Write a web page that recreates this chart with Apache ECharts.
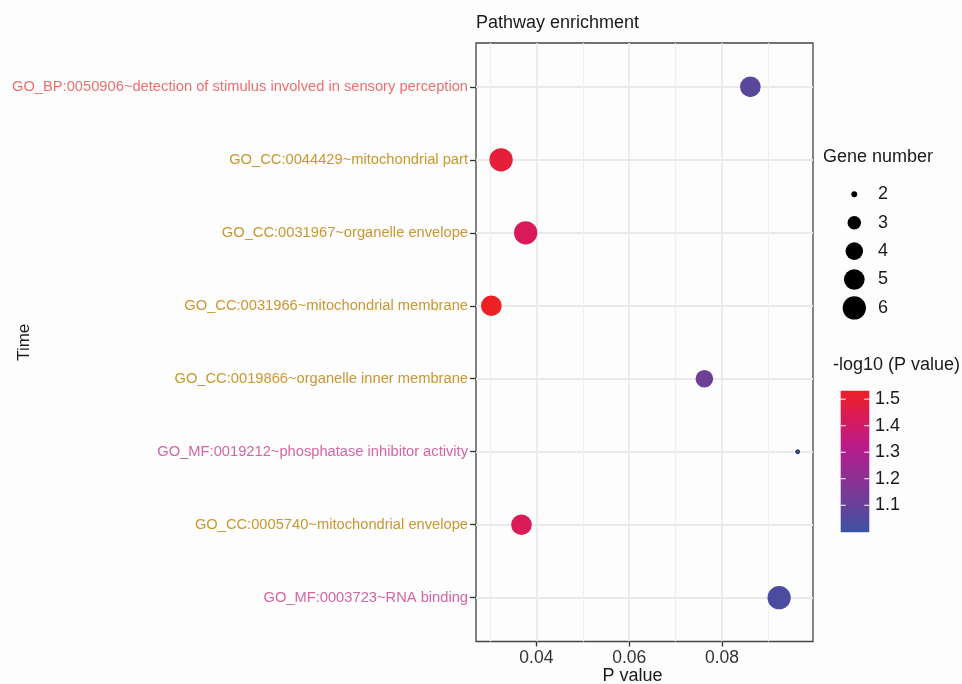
<!DOCTYPE html>
<html>
<head>
<meta charset="utf-8">
<script src="https://cdn.jsdelivr.net/npm/echarts@6/dist/echarts.min.js"></script>
<style>
  html, body { margin: 0; padding: 0; background: #fdfdfd; }
  #chart { width: 962px; height: 684px; }
</style>
</head>
<body>
<div id="chart"></div>
<script>
// GO terms, top to bottom
const categories = [
  'GO_BP:0050906~detection of stimulus involved in sensory perception',
  'GO_CC:0044429~mitochondrial part',
  'GO_CC:0031967~organelle envelope',
  'GO_CC:0031966~mitochondrial membrane',
  'GO_CC:0019866~organelle inner membrane',
  'GO_MF:0019212~phosphatase inhibitor activity',
  'GO_CC:0005740~mitochondrial envelope',
  'GO_MF:0003723~RNA binding'
];
const pValues = [0.0861, 0.0324, 0.0377, 0.0303, 0.0762, 0.0963, 0.0368, 0.0923];
const negLog10P = [1.065, 1.49, 1.425, 1.532, 1.12, 0.998, 1.435, 1.035];
const geneNumber = [5, 6, 6, 5, 4, 2, 5, 6];

const xTicks = [0.04, 0.06, 0.08];
const xMinorTicks = [0.03, 0.05, 0.07, 0.09];
const geneLegend = [2, 3, 4, 5, 6];
const colorbarTicks = [1.1, 1.2, 1.3, 1.4, 1.5];

const termColors = { BP: '#e8716f', CC: '#c9972f', MF: '#d465a5' };
const rampColors = ['#3a53a4', '#6a4099', '#8f2f92', '#b81c8a', '#d81a5c', '#ee2024'];
const FONT = 'Liberation Sans';

// size scale: area-proportional over the gene-number range
const gMin = Math.min(...geneLegend), gMax = Math.max(...geneLegend);
function dotSize(n) {
  return 3.88 * (1 + 5 * Math.sqrt((n - gMin) / (gMax - gMin)));
}

// x range with 5% padding on each side
const pLo = Math.min(...pValues), pHi = Math.max(...pValues);
const pad = (pHi - pLo) * 0.05;
const xMin = pLo - pad, xMax = pHi + pad;

const cMin = Math.min(...negLog10P), cMax = Math.max(...negLog10P);

const points = categories.map((c, i) => {
  const d = { value: [pValues[i], i, geneNumber[i], negLog10P[i]] };
  if (geneNumber[i] === gMin) d.itemStyle = { borderColor: '#1d2452', borderWidth: 1 };
  return d;
});

const chart = echarts.init(document.getElementById('chart'), null, { renderer: 'canvas' });

// plot frame in pixels
const gLeft = 476, gTop = 43, gRight = 149, gBottom = 42.5;

// legend graphics
const graphics = [];
graphics.push({
  type: 'text', left: 823, top: 148,
  style: { text: 'Gene number', font: '18px "' + FONT + '"', fill: '#1a1a1a' }
});
geneLegend.forEach((g, k) => {
  const cy = 194.3 + k * 28.4;
  const r = dotSize(g) / 2 + (g === gMin ? 1 : 0);
  graphics.push({ type: 'circle', shape: { cx: 854.3, cy: cy, r: r }, style: { fill: '#000' } });
  graphics.push({
    type: 'text', x: 878, y: cy,
    style: { text: String(g), font: '18px "' + FONT + '"', fill: '#1a1a1a', verticalAlign: 'middle' }
  });
});

graphics.push({
  type: 'text', left: 833, top: 356,
  style: { text: '-log10 (P value)', font: '18px "' + FONT + '"', fill: '#1a1a1a' }
});
const cbX = 840.7, cbY = 390.7, cbW = 28.6, cbH = 141.6;
graphics.push({
  type: 'rect', shape: { x: cbX, y: cbY, width: cbW, height: cbH },
  style: {
    fill: new echarts.graphic.LinearGradient(0, 1, 0, 0,
      rampColors.map((c, i) => ({ offset: i / (rampColors.length - 1), color: c })))
  }
});
colorbarTicks.forEach(v => {
  const y = cbY + (cMax - v) / (cMax - cMin) * cbH;
  graphics.push({ type: 'line', shape: { x1: cbX, y1: y, x2: cbX + 5, y2: y }, style: { stroke: '#fff', lineWidth: 1 } });
  graphics.push({ type: 'line', shape: { x1: cbX + cbW - 5, y1: y, x2: cbX + cbW, y2: y }, style: { stroke: '#fff', lineWidth: 1 } });
  graphics.push({
    type: 'text', x: 875, y: y,
    style: { text: v.toFixed(1), font: '18px "' + FONT + '"', fill: '#1a1a1a', verticalAlign: 'middle' }
  });
});

const rich = {};
Object.keys(termColors).forEach(k => {
  rich[k] = { color: termColors[k], fontSize: 14.7, fontFamily: FONT };
});

chart.setOption({
  backgroundColor: '#fdfdfd',
  animation: false,
  textStyle: { fontFamily: FONT },
  title: {
    text: 'Pathway enrichment',
    left: 471, top: 9,
    textStyle: { fontSize: 18, fontWeight: 'normal', color: '#1a1a1a', fontFamily: FONT }
  },
  grid: {
    left: gLeft, top: gTop, right: gRight, bottom: gBottom,
    outerBoundsMode: 'none', containLabel: false,
    show: true, borderColor: '#444', borderWidth: 1.3, backgroundColor: '#fdfdfd'
  },
  xAxis: [{
    type: 'value', min: xMin, max: xMax, position: 'bottom',
    name: 'P value', nameLocation: 'middle', nameGap: 26, nameMoveOverlap: false,
    nameTextStyle: { fontSize: 18, color: '#1a1a1a', fontFamily: FONT, padding: [0, 24, 0, 0] },
    axisLine: { show: false, onZero: false },
    axisTick: { show: true, length: 5, customValues: xTicks, lineStyle: { color: '#333', width: 1.3 } },
    axisLabel: { customValues: xTicks, formatter: v => v.toFixed(2), fontSize: 17.5, color: '#333', margin: 8 },
    splitLine: { show: true, lineStyle: { color: '#e9e9e9', width: 1.6 } }
  }, {
    type: 'value', min: xMin, max: xMax, position: 'top',
    axisLine: { show: false, onZero: false },
    axisTick: { show: false, customValues: xMinorTicks },
    axisLabel: { show: false, customValues: xMinorTicks },
    splitLine: { show: true, lineStyle: { color: '#efefef', width: 1.2 } }
  }],
  yAxis: {
    type: 'value', inverse: true, min: -0.6, max: categories.length - 0.4,
    name: 'Time', nameLocation: 'middle', nameGap: 443, nameRotate: 90, nameMoveOverlap: false,
    nameTextStyle: { fontSize: 17, color: '#1a1a1a', fontFamily: FONT },
    axisLine: { show: false, onZero: false },
    axisTick: { show: true, length: 6, customValues: categories.map((c, i) => i), lineStyle: { color: '#333', width: 1.3 } },
    axisLabel: {
      customValues: categories.map((c, i) => i),
      margin: 8,
      formatter: v => {
        const c = categories[Math.round(v)];
        const t = c.slice(3, 5);
        return '{' + t + '|' + c + '}';
      },
      rich: rich
    },
    splitLine: { show: true, lineStyle: { color: '#e9e9e9', width: 1.8 } }
  },
  visualMap: {
    show: false, type: 'continuous', dimension: 3,
    min: cMin, max: cMax, inRange: { color: rampColors }, seriesIndex: 0
  },
  series: [{
    type: 'scatter',
    xAxisIndex: 0,
    data: points,
    symbolSize: v => dotSize(v[2]),
    itemStyle: { opacity: 1 },
    z: 5
  }],
  graphic: graphics
});
</script>
</body>
</html>
